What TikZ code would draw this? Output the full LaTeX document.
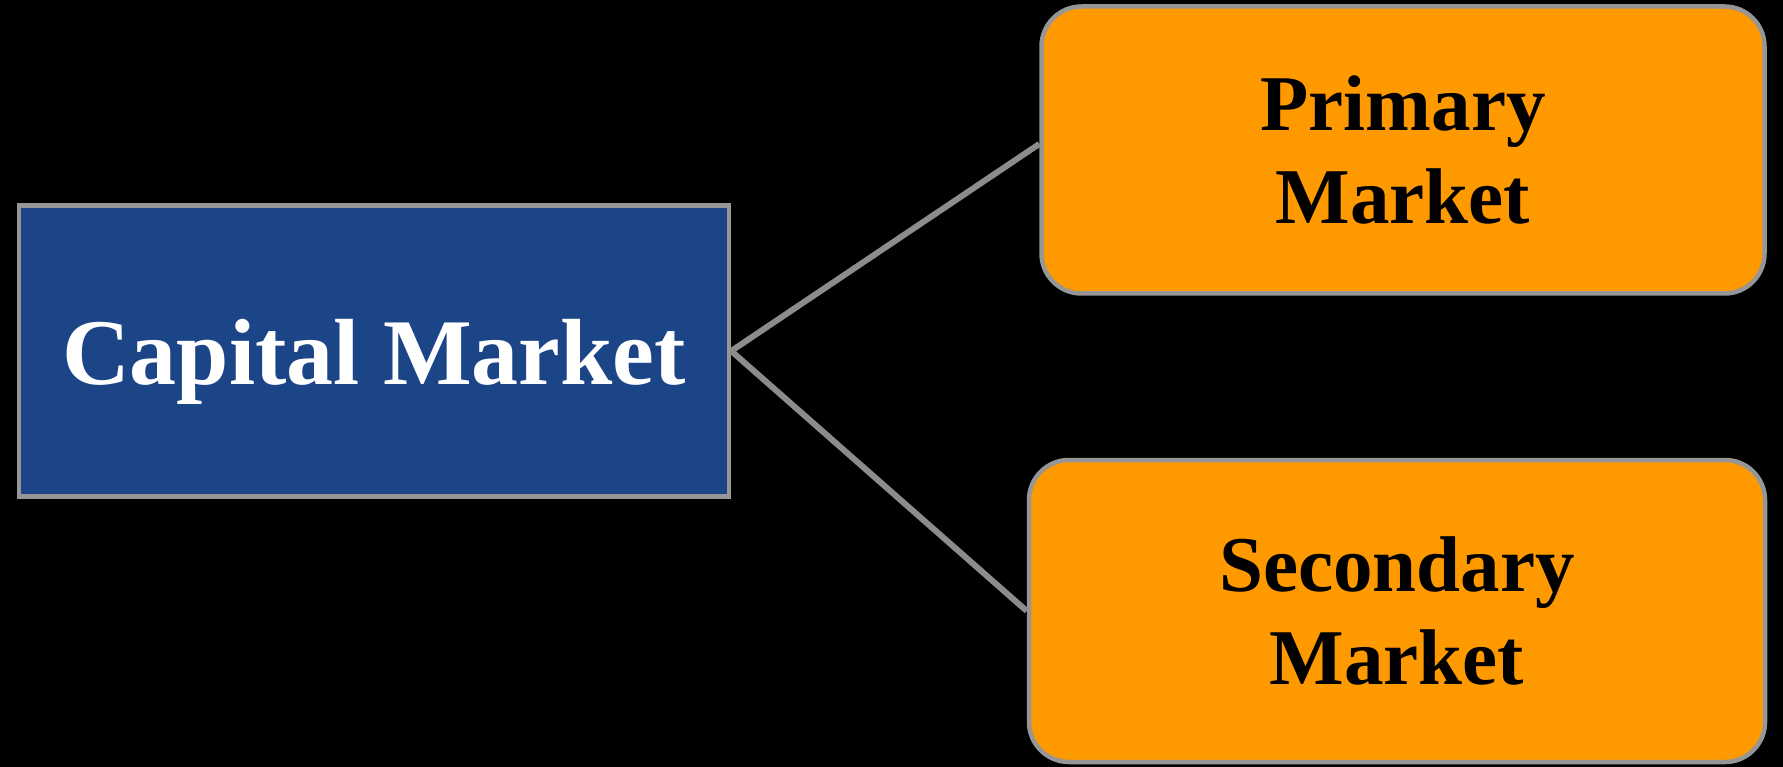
\documentclass[tikz,border=0pt]{standalone}
\usepackage{fontspec}
\setmainfont{Liberation Serif}
\definecolor{capblue}{RGB}{28,69,135}
\definecolor{mktorange}{RGB}{255,153,0}
\definecolor{edgegray}{RGB}{150,150,150}
\definecolor{linegray}{RGB}{140,140,140}
\begin{document}
\begin{tikzpicture}[x=1pt,y=-1pt,
  mainbox/.style={draw=edgegray, line width=4.5pt, fill=capblue, text=white,
    inner sep=0pt, font=\fontsize{94}{100}\selectfont\bfseries},
  subbox/.style={draw=edgegray, line width=4.5pt, fill=mktorange, text=black,
    rounded corners=40pt, inner sep=0pt, align=center,
    font=\fontsize{79}{93}\selectfont\bfseries},
  link/.style={draw=linegray, line width=6pt}]
\fill[black] (0,0) rectangle (1783,767);
\useasboundingbox (0,0) rectangle (1783,767);
\node[mainbox, minimum width=710pt, minimum height=291pt] (cap) at (374,351) {\raisebox{-11pt}[\height][\depth]{Capital Market}};
\node[subbox, minimum width=723pt, minimum height=287pt] (prim) at (1403,150) {Primary\\Market};
\node[subbox, minimum width=736pt, minimum height=302pt] (sec) at (1397,611) {Secondary\\Market};
\draw[link] (cap.east) -- ([yshift=6pt]prim.west);
\draw[link] (cap.east) -- (sec.west);
\end{tikzpicture}
\end{document}
